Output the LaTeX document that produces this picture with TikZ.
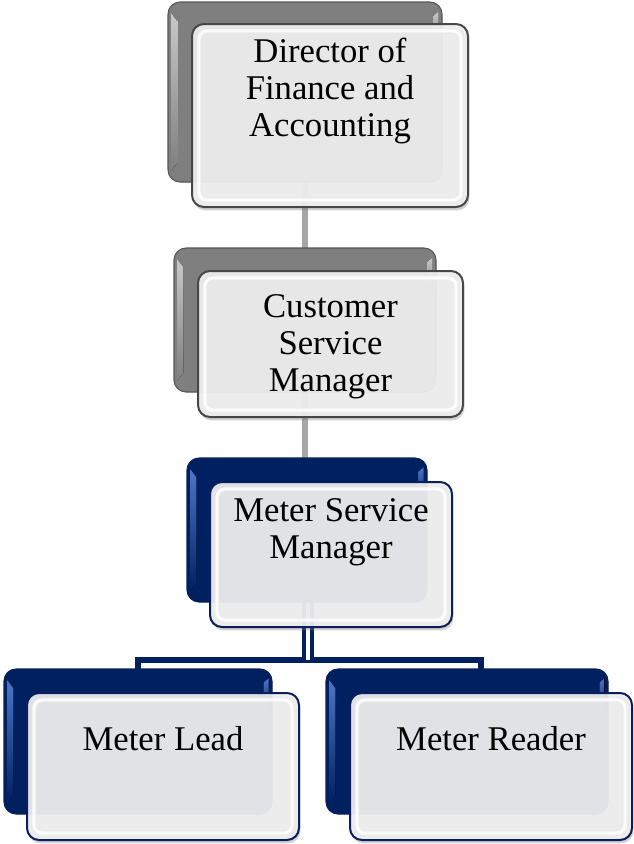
\documentclass[tikz,border=0pt]{standalone}
\usepackage{fontspec}
\setmainfont{Liberation Serif}
\usetikzlibrary{shadows,calc}
\definecolor{navy}{HTML}{002060}
\definecolor{navyhi}{HTML}{5075C8}
\definecolor{navyline}{HTML}{0A1F5C}
\definecolor{gbase}{HTML}{7F7F7F}
\definecolor{ghi}{HTML}{C8C8C8}
\definecolor{gline}{HTML}{555555}
\definecolor{conngray}{HTML}{A6A6A6}
\definecolor{frontfill}{HTML}{EFEFEF}
\tikzset{
  sz/.style 2 args={minimum width=#1*0.75pt, minimum height=#2*0.75pt},
  back/.style={rounded corners=9pt, inner sep=0pt, line width=0.8pt},
  backgray/.style={back, fill=gbase, draw=gline},
  backblue/.style={back, fill=navy, draw=navyline},
  front/.style={rounded corners=9pt, inner sep=0pt, fill=frontfill, fill opacity=0.93, line width=1.5pt,
    drop shadow={shadow xshift=1pt, shadow yshift=-2.5pt, opacity=0.35}},
  frontgray/.style={front, draw=black!72},
  frontblue/.style={front, draw=navyline},
  lbl/.style={inner sep=0pt, anchor=north, align=center, font=\fontsize{26}{27.75}\selectfont, text=black},
  gconn/.style={draw=conngray, line width=4pt},
  bconn/.style={draw=navy, line width=4.5pt, line join=miter},
  btrunk/.style={draw=navy, line width=3pt, double=white, double distance=3pt},
  bandw/.style={draw=white, draw opacity=0.85, line width=2.5pt, rounded corners=6pt},
  bandl/.style={draw=black!8, line width=0.6pt, rounded corners=5pt}
}
\newcommand{\backbevel}[3]{%
  \fill[top color=#2, bottom color=#3] ($(#1.north west)+(4,12)$) -- ($(#1.north west)+(10,20)$) -- ($(#1.south west)+(10,-20)$) -- ($(#1.south west)+(4,-12)$) -- cycle;
  \fill[top color=#2, bottom color=#3] ($(#1.north east)+(-4,10)$) -- ($(#1.north east)+(-9,14)$) -- ($(#1.north east)+(-9,40)$) -- ($(#1.north east)+(-4,44)$) -- cycle;}
\newcommand{\frontbevel}[1]{%
  \draw[bandw] ($(#1.north west)+(8,8)$) rectangle ($(#1.south east)+(-8,-8)$);
  \draw[bandl] ($(#1.north west)+(10,10)$) rectangle ($(#1.south east)+(-10,-10)$);}
\begin{document}
\begin{tikzpicture}[x=0.75pt, y=-0.75pt]
\fill[white] (0,0) rectangle (634,844);
\useasboundingbox (0,0) rectangle (634,844);
% invisible placement of back boxes for connector anchors
\path
  node[sz={274}{180}, inner sep=0pt] (b1) at (305,92) {}
  node[sz={262}{144}, inner sep=0pt] (b2) at (305,320) {}
  node[sz={240}{144}, inner sep=0pt] (b3) at (307,530) {}
  node[sz={268}{145}, inner sep=0pt] (b4) at (138,741.5) {}
  node[sz={282}{145}, inner sep=0pt] (b5) at (467,741.5) {};
\coordinate (j) at (308,660);
\coordinate (r5) at (481,669);
% connectors
\draw[gconn] (b1.south) -- (b1.south |- b2.north);
\draw[gconn] (b2.south) -- (b2.south |- b3.north);
\draw[bconn] (b4.north) |- (j) -| (r5);
\draw[btrunk] (b3.south -| j) -- (j);
% box 1
\node[backgray, sz={274}{180}] (k1) at (b1) {};
\backbevel{k1}{ghi}{gbase}
\node[frontgray, sz={276}{183}] (f1) at (330,115.5) {};
\frontbevel{f1}
\node[lbl] (t1) at (330,38) {Director of\\Finance and\\Accounting};
% box 2
\node[backgray, sz={262}{144}] (k2) at (b2) {};
\backbevel{k2}{ghi}{gbase}
\node[frontgray, sz={265}{146}] (f2) at (330.5,344) {};
\frontbevel{f2}
\node[lbl] (t2) at (330.5,294) {Customer\\Service\\Manager};
% box 3
\node[backblue, sz={240}{144}] (k3) at (b3) {};
\backbevel{k3}{navyhi}{navy}
\node[frontblue, sz={242}{145}] (f3) at (331,554.5) {};
\frontbevel{f3}
\node[lbl] (t3) at (331,498) {Meter Service\\Manager};
% box 4
\node[backblue, sz={268}{145}] (k4) at (b4) {};
\backbevel{k4}{navyhi}{navy}
\node[frontblue, sz={272}{147}] (f4) at (163,766.5) {};
\frontbevel{f4}
\node[lbl] (t4) at (163,726) {Meter Lead};
% box 5
\node[backblue, sz={282}{145}] (k5) at (b5) {};
\backbevel{k5}{navyhi}{navy}
\node[frontblue, sz={282}{147}] (f5) at (491,766.5) {};
\frontbevel{f5}
\node[lbl] (t5) at (491,726) {Meter Reader};
\end{tikzpicture}
\end{document}
